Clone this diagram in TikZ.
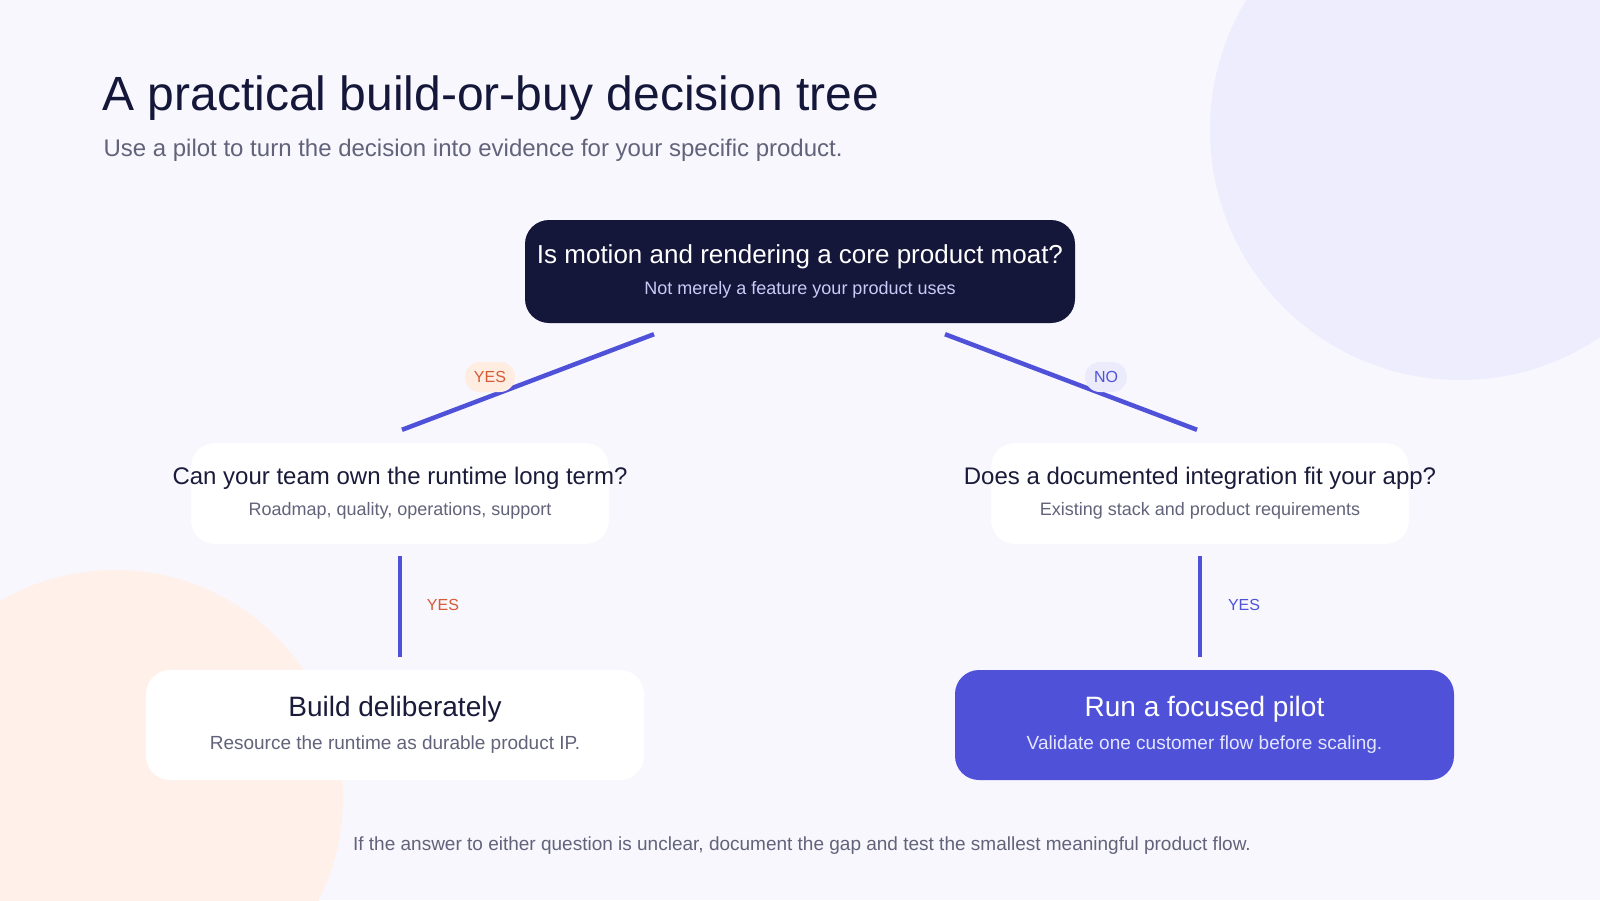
\documentclass[tikz,border=0pt]{standalone}
\usepackage{fontspec}
\setmainfont{Liberation Sans}
\usetikzlibrary{positioning,calc}

\definecolor{bg}{HTML}{F7F7FD}
\definecolor{blobblue}{HTML}{EDEDFD}
\definecolor{blobpeach}{HTML}{FFF0E9}
\definecolor{navy}{HTML}{15173A}
\definecolor{indigo}{HTML}{4F52D9}
\definecolor{ink}{HTML}{1A1B3A}
\definecolor{muted}{HTML}{62637A}
\definecolor{lav}{HTML}{C9CAF7}
\definecolor{paleind}{HTML}{E4E5FF}
\definecolor{rust}{HTML}{D65A35}
\definecolor{peach}{HTML}{FFEDE2}
\definecolor{nopill}{HTML}{EBEBFB}

\newcommand{\headfont}{\fontsize{48}{58}\selectfont}
\newcommand{\leadfont}{\fontsize{24}{29}\selectfont}
\newcommand{\moatfont}{\fontsize{26}{31}\selectfont}
\newcommand{\qfont}{\fontsize{24}{29}\selectfont}
\newcommand{\outfont}{\fontsize{28}{34}\selectfont}
\newcommand{\smallfont}{\fontsize{18}{22}\selectfont}
\newcommand{\outsubfont}{\fontsize{19}{23}\selectfont}
\newcommand{\tagfont}{\fontsize{16}{20}\selectfont}

\begin{document}
\begin{tikzpicture}[x=1pt,y=-1pt,
    box/.style={rounded corners=24pt, align=center, inner sep=0pt, minimum width=418pt, minimum height=101pt, fill=white},
    branch/.style={draw=indigo, line width=4.5pt},
    pill/.style={rounded corners=15pt, minimum height=30pt, inner xsep=9pt, font=\tagfont}]

    \useasboundingbox (0,0) rectangle (1600,900);
    \begin{scope}
        \clip (0,0) rectangle (1600,900);
        \fill[bg] (0,0) rectangle (1600,900);
        \fill[blobblue] (1460,130) circle[radius=250];
        \fill[blobpeach] (115,798) circle[radius=228];
    \end{scope}

    \node[anchor=base west, text=navy, font=\headfont] (head) at (99,110) {A practical build-or-buy decision tree};
    \node[anchor=base west, text=muted, font=\leadfont] (lead) at (100,156) {Use a pilot to turn the decision into evidence for your specific product.};

    % questions
    \node[box, fill=navy, minimum width=550pt, minimum height=103pt] (moat) at (800,271.5)
        {\makebox[0pt]{\moatfont\color{white}Is motion and rendering a core product moat?}\\[12pt]\makebox[0pt]{\smallfont\color{lav}Not merely a feature your product uses}};
    \node[box] (team) at (400,493.5)
        {\makebox[0pt]{\qfont\color{ink}Can your team own the runtime long term?}\\[12pt]\makebox[0pt]{\smallfont\color{muted}Roadmap, quality, operations, support}};
    \node[box] (fit) at (1200,493.5)
        {\makebox[0pt]{\qfont\color{ink}Does a documented integration fit your app?}\\[12pt]\makebox[0pt]{\smallfont\color{muted}Existing stack and product requirements}};

    % outcomes
    \node[box, minimum width=498pt, minimum height=110pt] (build) at (395,725)
        {\makebox[0pt]{\outfont\color{ink}Build deliberately}\\[13pt]\makebox[0pt]{\outsubfont\color{muted}Resource the runtime as durable product IP.}};
    \node[box, fill=indigo, minimum width=499pt, minimum height=110pt] (pilot) at (1204.5,725)
        {\makebox[0pt]{\outfont\color{white}Run a focused pilot}\\[13pt]\makebox[0pt]{\outsubfont\color{paleind}Validate one customer flow before scaling.}};

    \draw[branch] ([xshift=-146pt,yshift=-11pt]moat.south) -- ([xshift=2pt,yshift=13pt]team.north);
    \draw[branch] ([xshift=145pt,yshift=-11pt]moat.south) -- ([xshift=-3pt,yshift=13pt]fit.north);
    \draw[branch] ([yshift=-12pt]team.south) -- ([yshift=13pt]build.north -| team.south);
    \draw[branch] ([yshift=-12pt]fit.south) -- ([yshift=13pt]pilot.north -| fit.south);

    \node[pill, fill=peach, text=rust] (yesa) at (490,377) {YES};
    \node[pill, fill=nopill, text=indigo] (noa) at (1106,377) {NO};
    \node[text=rust, font=\tagfont] (yesb) at (443,605) {YES};
    \node[text=indigo, font=\tagfont] (yesc) at (1244,605) {YES};

    \node[anchor=base, text=muted, font=\outsubfont] (note) at (802,850)
        {If the answer to either question is unclear, document the gap and test the smallest meaningful product flow.};
\end{tikzpicture}
\end{document}
